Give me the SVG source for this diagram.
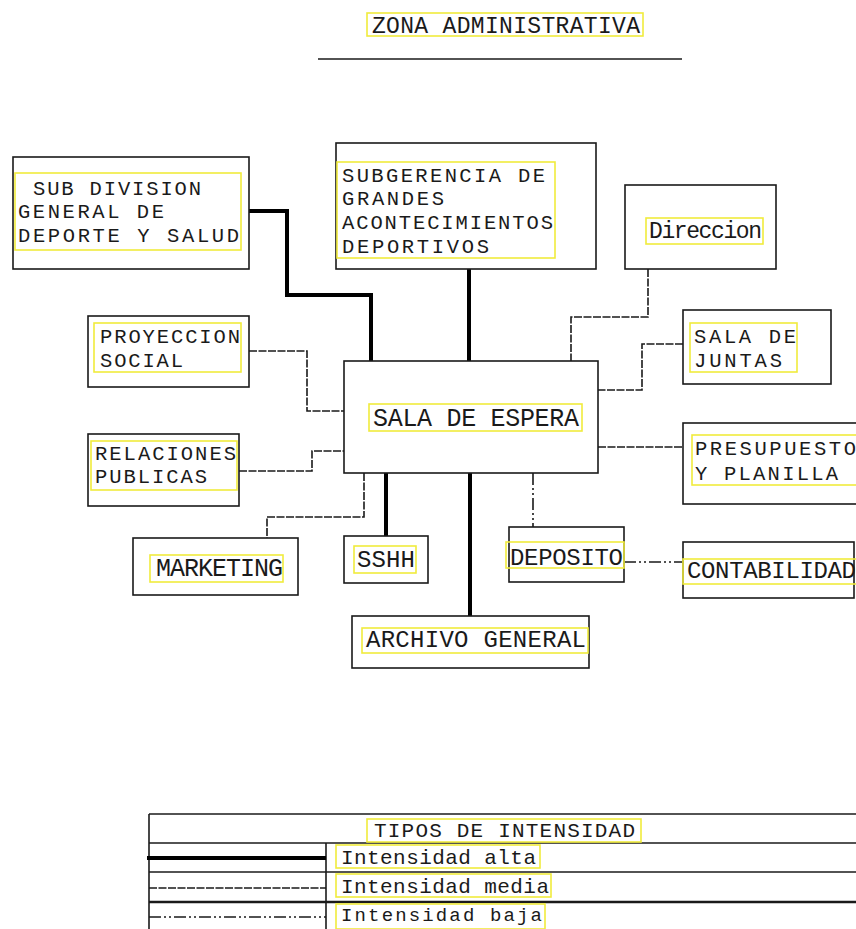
<svg xmlns="http://www.w3.org/2000/svg" width="856" height="929" viewBox="0 0 856 929">
<style>
.bg{fill:#ffffff}
.box{fill:none;stroke:#1a1a1a;stroke-width:1.6}
.tf{fill:none;stroke:#f0ec3c;stroke-width:1.6}
.t{font-family:"Liberation Mono","DejaVu Sans Mono",monospace;font-size:23px;fill:#1a1a1a}
.ml{font-size:20.5px}
.big{font-size:25px}
.lg{font-size:21px}
.hi{fill:none;stroke:#000;stroke-width:4}
.med{fill:none;stroke:#1a1a1a;stroke-width:1.6;stroke-dasharray:8 1.5}
.low{fill:none;stroke:#1a1a1a;stroke-width:1.6;stroke-dasharray:12 3 2 3 2 3}
.rule{fill:none;stroke:#1a1a1a;stroke-width:1.6}
</style>
<rect class="bg" x="0" y="0" width="856" height="929"/>

<g id="title">
<rect class="tf" x="367" y="13" width="276" height="23"/>
<text class="t" x="372" y="33" textLength="268" lengthAdjust="spacing">ZONA ADMINISTRATIVA</text>
<line class="rule" x1="318" y1="59" x2="682" y2="59"/>
</g>

<g id="connectors">
<path class="hi" d="M249,211 H287 V295 H371 V361"/>
<path class="hi" d="M469,269 V361"/>
<path class="hi" d="M386,473 V536"/>
<path class="hi" d="M470,473 V616"/>
<path class="med" d="M648,269 V317 H571 V361"/>
<path class="med" d="M683,344 H642 V390 H598"/>
<path class="med" d="M598,447 H683"/>
<path class="med" d="M249,351 H307 V411 H344"/>
<path class="med" d="M239,471 H312 V451 H344"/>
<path class="med" d="M364,473 V517 H267 V538"/>
<path class="low" d="M533,473 V527"/>
<path class="low" d="M624,562 H683"/>
</g>

<g id="subdivision">
<rect class="box" x="13" y="157" width="236" height="112"/>
<rect class="tf" x="15" y="173" width="226" height="77"/>
<text class="t ml" x="33" y="195" textLength="168" lengthAdjust="spacing">SUB DIVISION</text>
<text class="t ml" x="18" y="218" textLength="146" lengthAdjust="spacing">GENERAL DE</text>
<text class="t ml" x="18" y="242" textLength="221" lengthAdjust="spacing">DEPORTE Y SALUD</text>
</g>

<g id="subgerencia">
<rect class="box" x="336" y="143" width="260" height="126"/>
<rect class="tf" x="337" y="162" width="218" height="96"/>
<text class="t ml" x="342" y="182" textLength="203" lengthAdjust="spacing">SUBGERENCIA DE</text>
<text class="t ml" x="342" y="205" textLength="102" lengthAdjust="spacing">GRANDES</text>
<text class="t ml" x="342" y="229" textLength="211" lengthAdjust="spacing">ACONTECIMIENTOS</text>
<text class="t ml" x="342" y="253" textLength="147" lengthAdjust="spacing">DEPORTIVOS</text>
</g>

<g id="direccion">
<rect class="box" x="625" y="185" width="151" height="84"/>
<rect class="tf" x="646" y="218" width="117" height="26"/>
<text class="t" x="649" y="238" textLength="113" lengthAdjust="spacing">Direccion</text>
</g>

<g id="proyeccion">
<rect class="box" x="88" y="316" width="161" height="71"/>
<rect class="tf" x="94" y="323" width="147" height="49"/>
<text class="t ml" x="100" y="343" textLength="140" lengthAdjust="spacing">PROYECCION</text>
<text class="t ml" x="100" y="367" textLength="83" lengthAdjust="spacing">SOCIAL</text>
</g>

<g id="juntas">
<rect class="box" x="683" y="310" width="148" height="74"/>
<rect class="tf" x="690" y="323" width="107" height="49"/>
<text class="t ml" x="694" y="343" textLength="102" lengthAdjust="spacing">SALA DE</text>
<text class="t ml" x="694" y="367" textLength="88" lengthAdjust="spacing">JUNTAS</text>
</g>

<g id="espera">
<rect class="box" x="344" y="361" width="254" height="112"/>
<rect class="tf" x="369" y="404" width="213" height="27"/>
<text class="t big" x="373" y="426" textLength="206" lengthAdjust="spacing">SALA DE ESPERA</text>
</g>

<g id="relaciones">
<rect class="box" x="88" y="434" width="151" height="72"/>
<rect class="tf" x="91" y="441" width="146" height="49"/>
<text class="t ml" x="95" y="460" textLength="141" lengthAdjust="spacing">RELACIONES</text>
<text class="t ml" x="95" y="483" textLength="112" lengthAdjust="spacing">PUBLICAS</text>
</g>

<g id="presupuesto">
<rect class="box" x="683" y="423" width="220" height="81"/>
<rect class="tf" x="692" y="435" width="200" height="50"/>
<text class="t ml" x="695" y="455" textLength="161" lengthAdjust="spacing">PRESUPUESTO</text>
<text class="t ml" x="695" y="480" textLength="143" lengthAdjust="spacing">Y PLANILLA</text>
</g>

<g id="marketing">
<rect class="box" x="133" y="538" width="165" height="57"/>
<rect class="tf" x="150" y="555" width="133" height="27"/>
<text class="t big" x="156" y="576" textLength="127" lengthAdjust="spacing">MARKETING</text>
</g>

<g id="sshh">
<rect class="box" x="344" y="536" width="84" height="47"/>
<rect class="tf" x="354" y="546" width="62" height="27"/>
<text class="t" x="357" y="567" textLength="58" lengthAdjust="spacing" style="font-size:24px">SSHH</text>
</g>

<g id="deposito">
<rect class="box" x="509" y="527" width="115" height="55"/>
<rect class="tf" x="506" y="542" width="118" height="26"/>
<text class="t" x="510" y="565" textLength="113" lengthAdjust="spacing" style="font-size:24px">DEPOSITO</text>
</g>

<g id="contabilidad">
<rect class="box" x="683" y="542" width="171" height="56"/>
<rect class="tf" x="683" y="559" width="180" height="25"/>
<text class="t" x="687" y="578" textLength="169" lengthAdjust="spacing" style="font-size:24px">CONTABILIDAD</text>
</g>

<g id="archivo">
<rect class="box" x="352" y="616" width="237" height="52"/>
<rect class="tf" x="362" y="628" width="226" height="25"/>
<text class="t" x="366" y="647" textLength="220" lengthAdjust="spacing" style="font-size:24px">ARCHIVO GENERAL</text>
</g>

<g id="legend">
<line class="rule" x1="149" y1="814" x2="856" y2="814"/>
<line class="rule" x1="149" y1="843" x2="856" y2="843"/>
<line class="rule" x1="149" y1="872" x2="856" y2="872"/>
<line class="rule" x1="149" y1="902" x2="856" y2="902" style="stroke-width:2.4"/>
<line class="rule" x1="149" y1="814" x2="149" y2="929"/>
<line class="rule" x1="326" y1="843" x2="326" y2="929"/>
<rect class="tf" x="367" y="819" width="274" height="23"/>
<text class="t lg" x="374" y="837" textLength="261" lengthAdjust="spacing">TIPOS DE INTENSIDAD</text>
<line class="hi" x1="147" y1="858" x2="326" y2="858"/>
<rect class="tf" x="336" y="845" width="204" height="23"/>
<text class="t lg" x="341" y="864" textLength="195" lengthAdjust="spacing">Intensidad alta</text>
<line class="med" x1="149" y1="888" x2="326" y2="888"/>
<rect class="tf" x="336" y="874" width="215" height="23"/>
<text class="t lg" x="341" y="893" textLength="208" lengthAdjust="spacing">Intensidad media</text>
<line class="low" x1="149" y1="917" x2="326" y2="917"/>
<rect class="tf" x="336" y="904" width="209" height="25"/>
<text class="t" x="341" y="921" textLength="201" lengthAdjust="spacing" style="font-size:19px">Intensidad baja</text>
</g>
</svg>
